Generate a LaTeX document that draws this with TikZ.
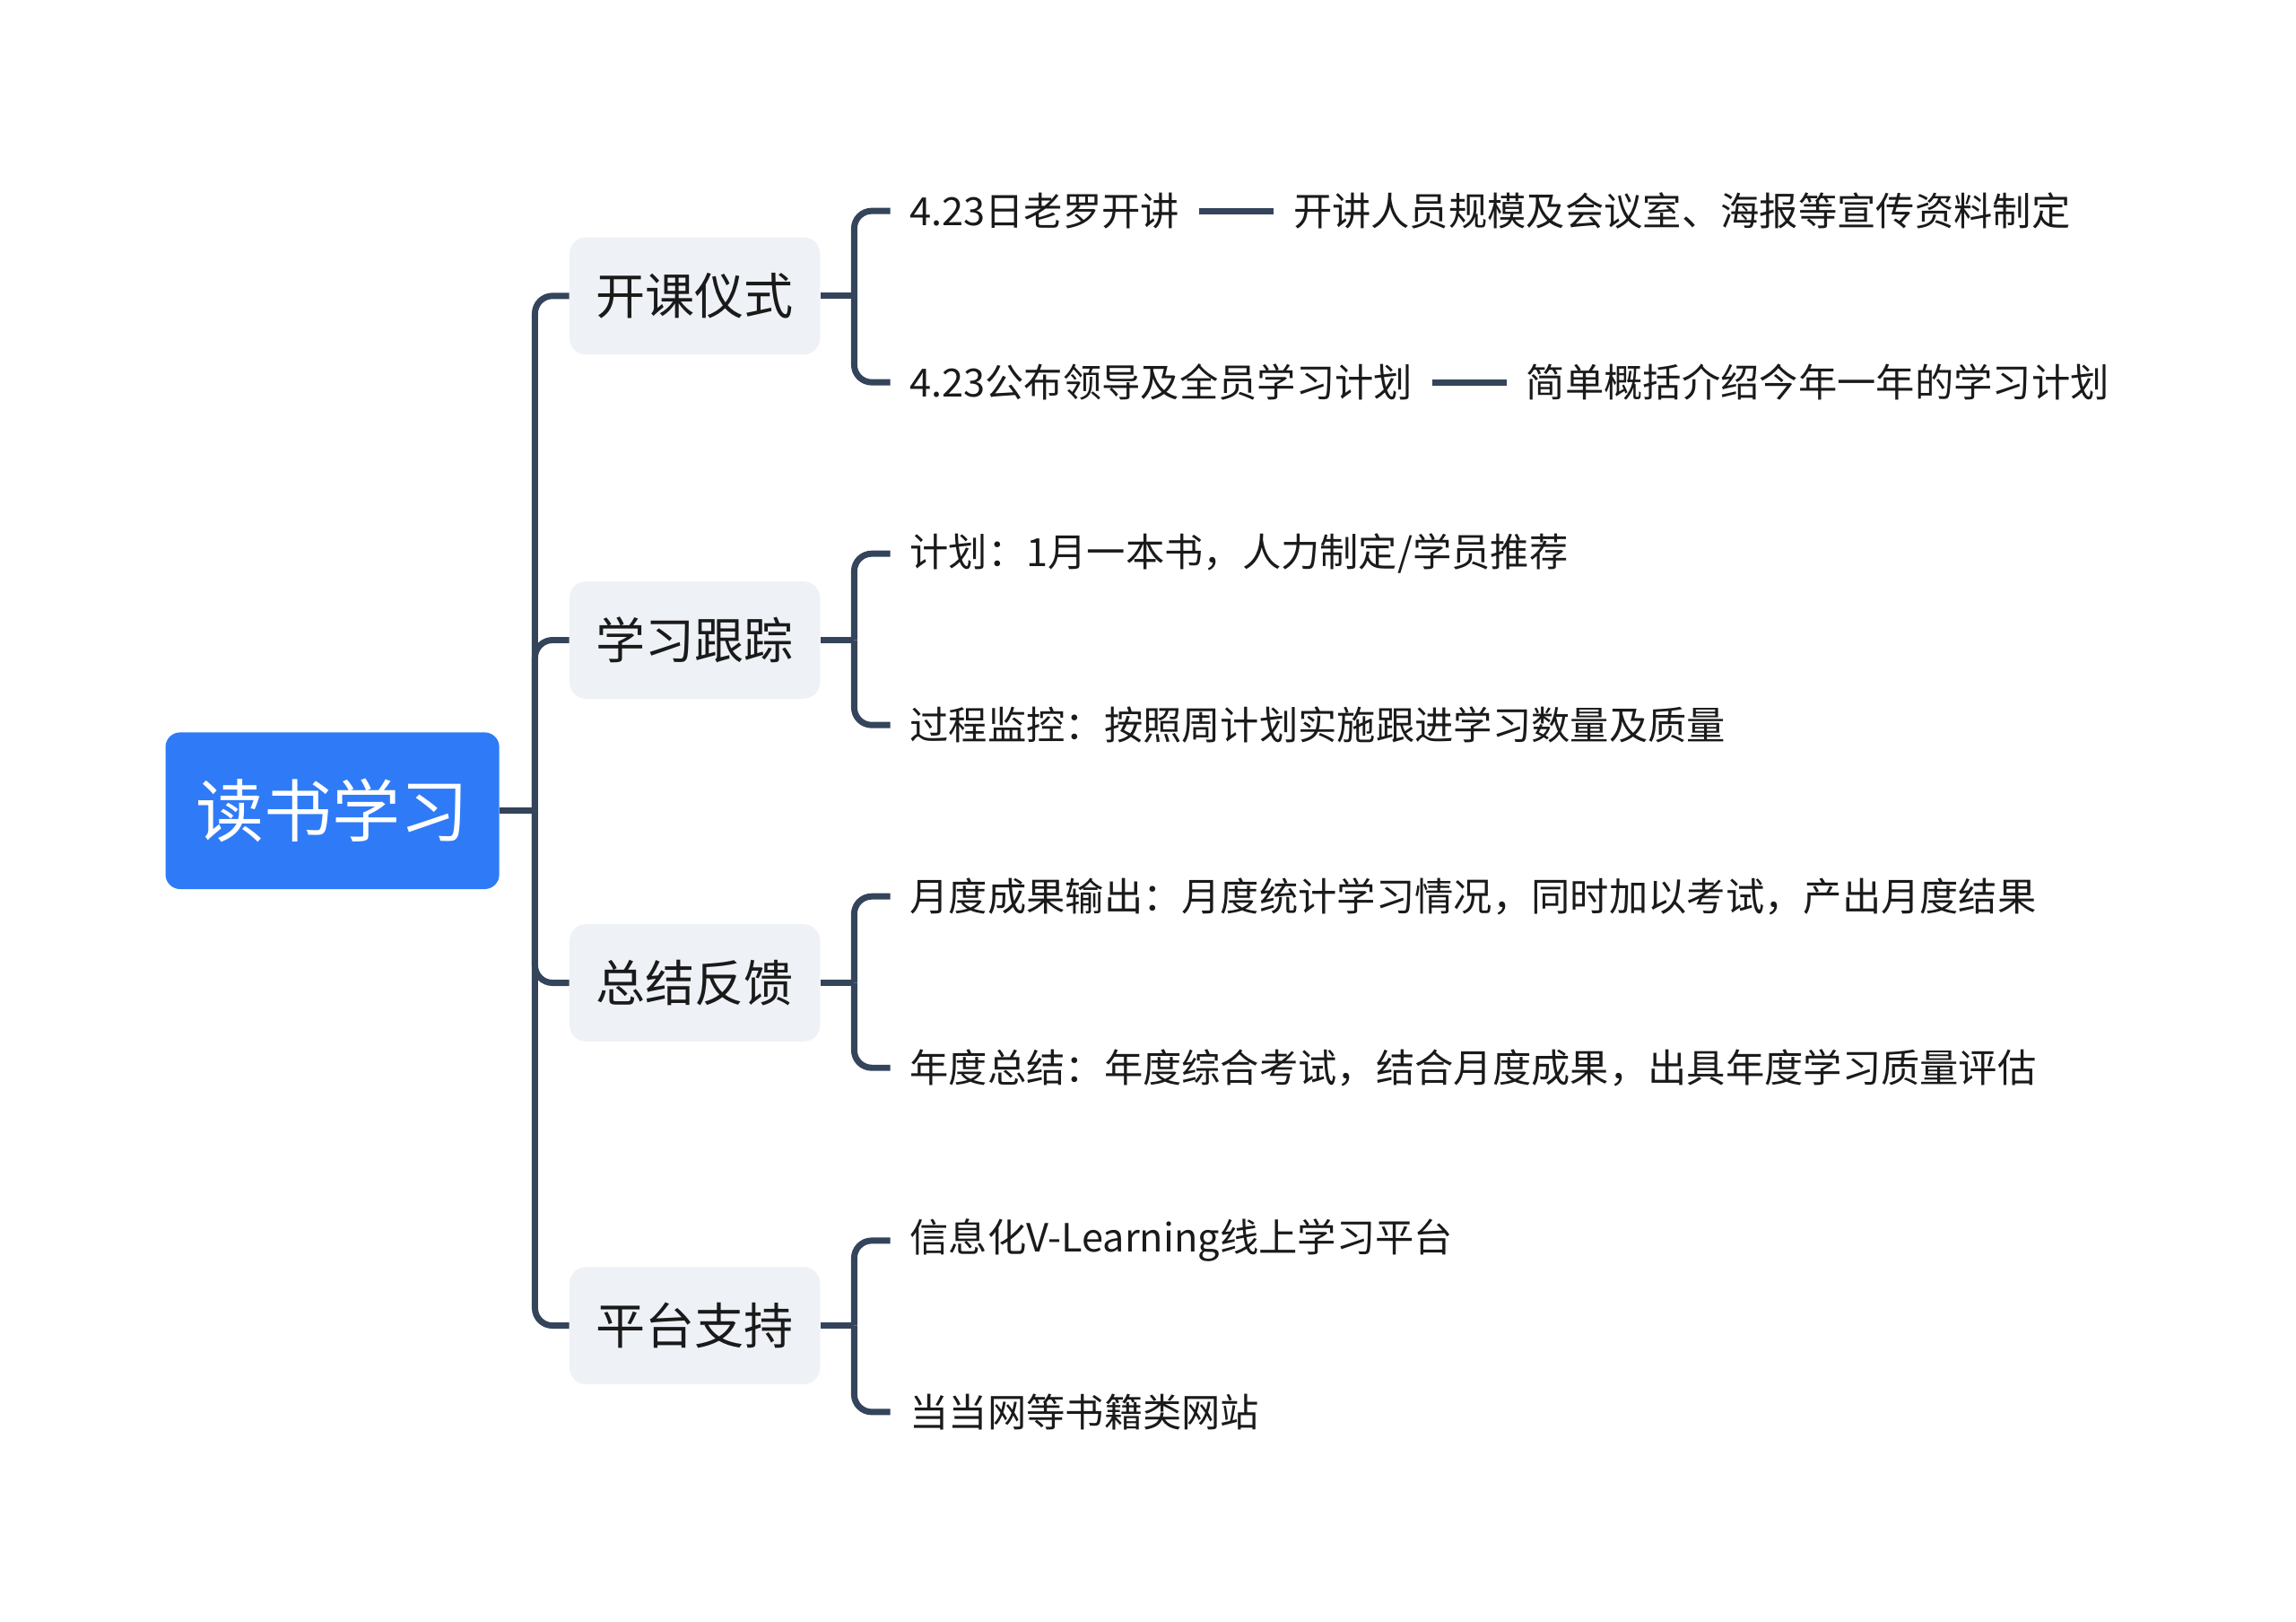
\documentclass[tikz,border=0pt]{standalone}
\usepackage{fontspec}
\setmainfont{Noto Sans CJK SC}
\usetikzlibrary{positioning}
\definecolor{RootBlue}{HTML}{2F7BF7}
\definecolor{TopicGray}{HTML}{EEF1F5}
\definecolor{LinkSlate}{HTML}{34445A}
\definecolor{TextDark}{HTML}{1A1A1A}

\tikzset{
  rootbox/.style={rounded corners=0.2cm, fill=RootBlue, text=white,
    minimum width=4.56cm, minimum height=2.14cm,
    font=\fontsize{26.5pt}{31pt}\selectfont},
  topicbox/.style={rounded corners=0.22cm, fill=TopicGray, text=TextDark,
    minimum width=3.42cm, minimum height=1.6cm,
    font=\fontsize{19.2pt}{23pt}\selectfont},
  itemtext/.style={anchor=west, inner xsep=0.26cm, inner ysep=0.1cm,
    text=TextDark, font=\fontsize{15.1pt}{18pt}\selectfont},
  notetext/.style={itemtext, right=1.02cm of #1},
  link/.style={draw=LinkSlate, line width=0.085cm, rounded corners=0.24cm},
}

\begin{document}
\begin{tikzpicture}[x=0.02cm, y=-0.02cm]
  \useasboundingbox (0,0) rectangle (1568,1107);

  % root and main topics
  \node[rootbox] (root) at (227,553.5) {读书学习};
  \node[topicbox] (t1) at (474.5,202) {开课仪式};
  \node[topicbox] (t2) at (474.5,437) {学习跟踪};
  \node[topicbox] (t3) at (474.5,671) {总结反馈};
  \node[topicbox] (t4) at (474.5,905) {平台支持};

  % sub topics
  \node[itemtext] (c11) at (608,144) {4.23日老罗开讲};
  \node[itemtext] (c12) at (608,261) {4.23公布领导及全员学习计划};
  \node[itemtext] (c21) at (608,378) {计划：1月一本书，人力制定/学员推荐};
  \node[itemtext] (c22) at (608,495) {过程监控：按照周计划实施跟进学习数量及质量};
  \node[itemtext] (c31) at (608,612) {月度成果输出：月度统计学习情况，同时加以考试，产出月度结果};
  \node[itemtext] (c32) at (608,729) {年度总结：年度综合考试，结合月度成果，出具年度学习质量评估};
  \node[itemtext] (c41) at (608,847) {信息化V-Learning线上学习平台};
  \node[itemtext] (c42) at (608,964) {当当网等书籍类网站};

  \node[notetext=c11] (n11) {开讲人员规模及会议室、海报等宣传资料制定};
  \node[notetext=c12] (n12) {简单概括介绍今年一年的学习计划};

  % trunk
  \draw[link] (root.east) -- ++(24,0) coordinate (hub);
  \foreach \t in {t1,t2,t3,t4}
    \draw[link] (hub) |- (\t.west);

  % brackets
  \foreach \t/\a/\b in {t1/c11/c12, t2/c21/c22, t3/c31/c32, t4/c41/c42} {
    \draw[link] (\t.east) -- ++(23,0) coordinate (b\t);
    \draw[link] (b\t) |- (\a.west);
    \draw[link] (b\t) |- (\b.west);
  }

  % notes
  \draw[link] (c11) -- (n11);
  \draw[link] (c12) -- (n12);
\end{tikzpicture}
\end{document}
